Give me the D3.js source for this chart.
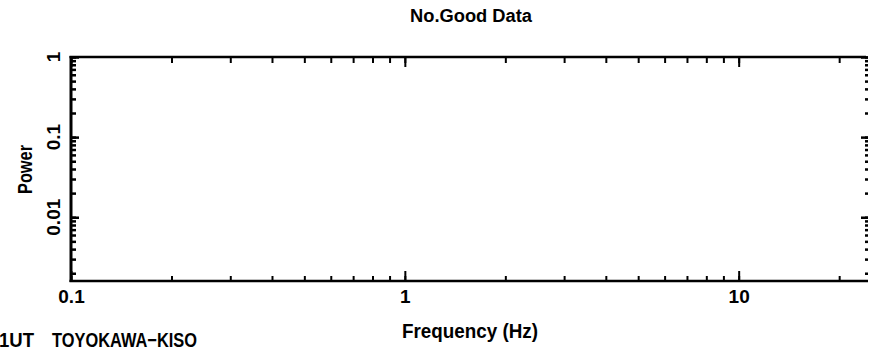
<!DOCTYPE html>
<html><head><meta charset="utf-8">
<script src="https://cdn.jsdelivr.net/npm/d3@7"></script>
<style>
html,body{margin:0;padding:0;background:#fff;}
svg{display:block;}
text{font-family:"Liberation Sans",Arial,sans-serif;font-weight:bold;fill:#000;}
</style></head>
<body>
<svg id="c" width="869" height="354"></svg>
<script>
// ---- chart content ----
const titleText = "No.Good Data";
const xLabelText = "Frequency (Hz)";
const yLabelText = "Power";
const footerParts = ["1UT", "TOYOKAWA\u2212KISO"];
const xDomain = [0.1, 24.4];
const yDomain = [0.0016, 1];
const xMajorTicks = [0.1, 1, 10];
const xMajorLabels = ["0.1", "1", "10"];
const yMajorTicks = [1, 0.1, 0.01];
const yMajorLabels = ["1", "0.1", "0.01"];
// no data series: "No.Good Data"
const seriesValues = [];

const svg = d3.select("#c");
const L = 71, R = 868, T = 57, B = 281;
const x = d3.scaleLog().domain(xDomain).range([L, R]);
const y = d3.scaleLog().domain(yDomain).range([B, T]);

const fmtX = d => xMajorLabels[xMajorTicks.indexOf(d)];

function style(g, w){
  g.select(".domain").remove();
  g.selectAll(".tick line").attr("stroke","#000").attr("stroke-width",w||2);
  g.selectAll("text").attr("font-size",19).attr("font-family",'"Liberation Sans",Arial,sans-serif').attr("font-weight","bold").attr("fill","#000");
}

// bottom axis minor + major
svg.append("g").attr("transform",`translate(0,${B})`)
  .call(d3.axisBottom(x).tickValues(x.ticks()).tickSize(-5).tickFormat(""))
  .call(style);
svg.append("g").attr("transform",`translate(0,${B})`)
  .call(d3.axisBottom(x).tickValues(xMajorTicks).tickSize(-10).tickPadding(9).tickFormat(fmtX))
  .call(style);
// top axis
svg.append("g").attr("transform",`translate(0,${T})`)
  .call(d3.axisTop(x).tickValues(x.ticks()).tickSize(-6).tickFormat(""))
  .call(style);
svg.append("g").attr("transform",`translate(0,${T})`)
  .call(d3.axisTop(x).tickValues(xMajorTicks).tickSize(-10).tickFormat(""))
  .call(style);
// left axis
svg.append("g").attr("transform",`translate(${L},0)`)
  .call(d3.axisLeft(y).tickValues(y.ticks()).tickSize(-5).tickFormat(""))
  .call(g=>style(g,2.5));
svg.append("g").attr("transform",`translate(${L},0)`)
  .call(d3.axisLeft(y).tickValues(yMajorTicks).tickSize(-8).tickFormat(""))
  .call(g=>style(g,2.5));
// right axis
svg.append("g").attr("transform",`translate(${R},0)`)
  .call(d3.axisRight(y).tickValues(y.ticks()).tickSize(-3).tickFormat(""))
  .call(g=>style(g,2.5));
svg.append("g").attr("transform",`translate(${R},0)`)
  .call(d3.axisRight(y).tickValues(yMajorTicks).tickSize(-7).tickFormat(""))
  .call(g=>style(g,2.5));

// y tick labels (rotated)
svg.append("g").selectAll("text").data(yMajorTicks).join("text")
  .attr("transform",d=>`translate(60,${y(d)}) rotate(-90)`)
  .attr("text-anchor","middle").attr("font-size",19)
  .text((d,i)=>yMajorLabels[i]);

// spines
svg.append("line").attr("x1",L).attr("x2",L).attr("y1",T-1).attr("y2",B+1).attr("stroke","#000").attr("stroke-width",3);
svg.append("line").attr("x1",L-1.5).attr("x2",R-2).attr("y1",T).attr("y2",T).attr("stroke","#000").attr("stroke-width",2.5);
svg.append("line").attr("x1",L-1.5).attr("x2",R).attr("y1",B).attr("y2",B).attr("stroke","#000").attr("stroke-width",2.5);

// titles
svg.append("text").attr("x",471).attr("y",22).attr("text-anchor","middle")
  .attr("font-size",18).attr("textLength",122).attr("lengthAdjust","spacingAndGlyphs").text(titleText);
svg.append("text").attr("x",402).attr("y",338)
  .attr("font-size",20).attr("textLength",136).attr("lengthAdjust","spacingAndGlyphs").text(xLabelText);
svg.append("text").attr("transform","translate(32,194) rotate(-90)")
  .attr("font-size",20).attr("textLength",49).attr("lengthAdjust","spacingAndGlyphs").text(yLabelText);
svg.append("text").attr("x",-1).attr("y",347)
  .attr("font-size",20).attr("textLength",35).attr("lengthAdjust","spacingAndGlyphs").text(footerParts[0]);
svg.append("text").attr("x",52).attr("y",347)
  .attr("font-size",20).attr("textLength",145).attr("lengthAdjust","spacingAndGlyphs").text(footerParts[1]);
</script>
</body></html>
